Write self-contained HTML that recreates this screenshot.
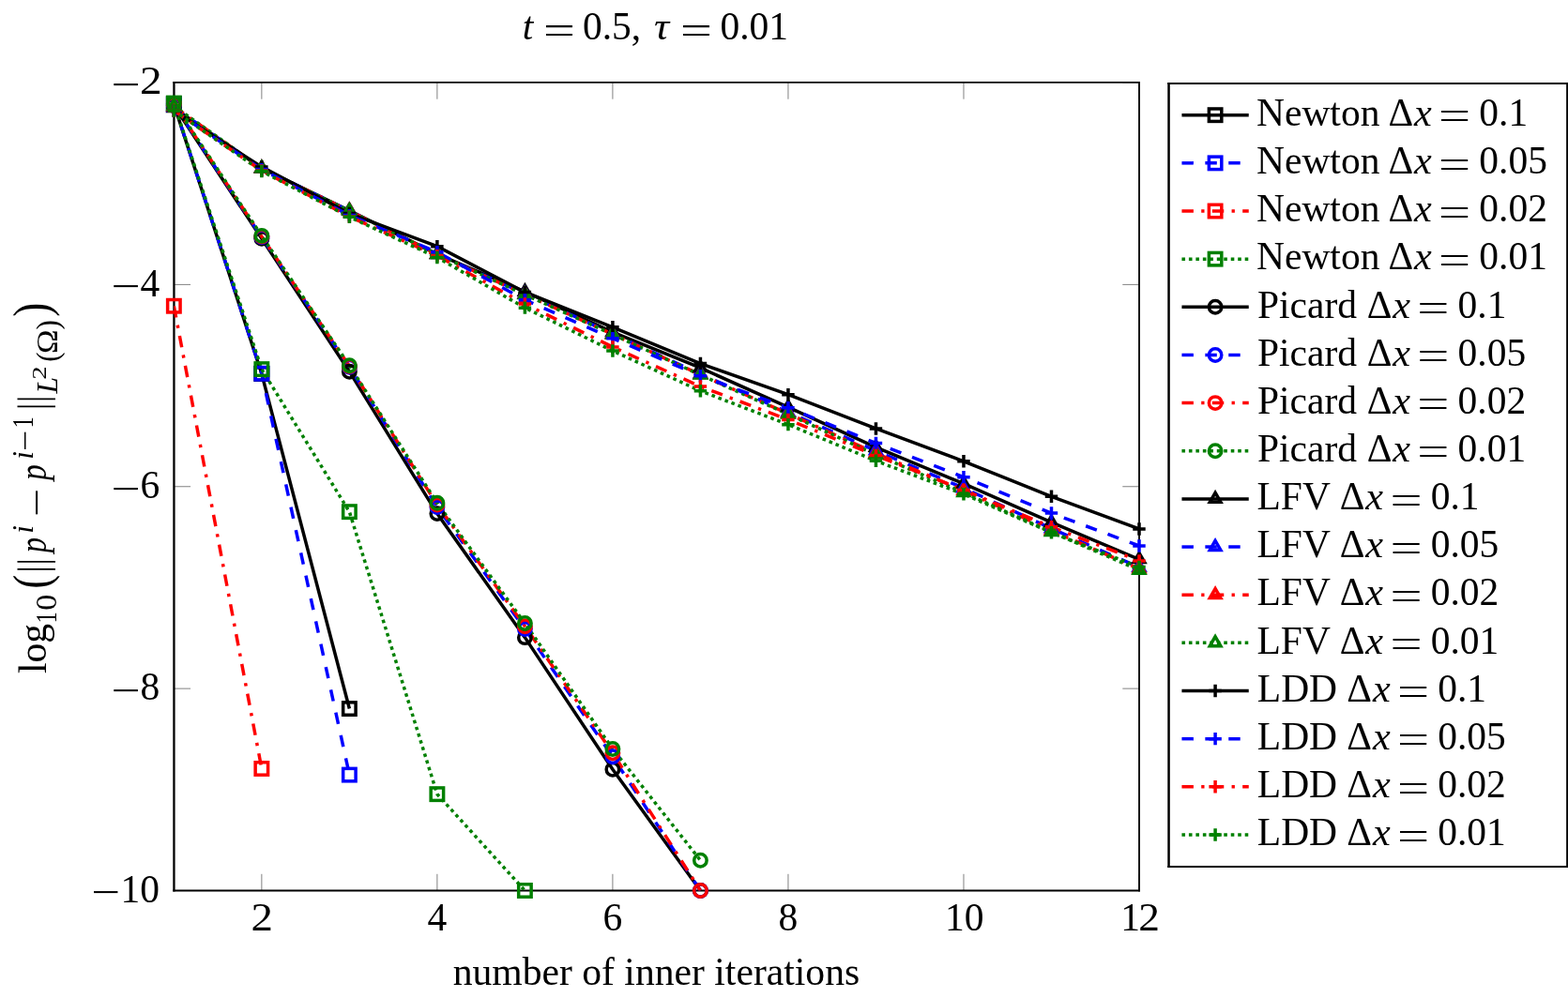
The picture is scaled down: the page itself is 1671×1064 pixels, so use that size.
<!DOCTYPE html>
<html lang="en"><head><meta charset="utf-8"><title>Convergence of inner iterations</title>
<style>html,body{margin:0;padding:0;background:#fff;overflow:hidden}svg{display:block}text{font-family:"Liberation Serif","DejaVu Serif",serif;fill:#000;white-space:pre}</style>
</head><body>
<svg width="1671" height="1064" viewBox="0 0 1671 1064">
<rect width="1671" height="1064" fill="#fff"/>
<defs><clipPath id="c"><rect x="185.35" y="88" width="1028.65" height="861.5"/></clipPath></defs>
<g stroke="#808080" stroke-width="1" fill="none">
<path d="M278.86 88v17.7M278.86 949.5v-17.7M465.89 88v17.7M465.89 949.5v-17.7M652.92 88v17.7M652.92 949.5v-17.7M839.95 88v17.7M839.95 949.5v-17.7M1026.97 88v17.7M1026.97 949.5v-17.7M1214 88v17.7M1214 949.5v-17.7M185.35 88h17.7M1214 88h-17.7M185.35 303.38h17.7M1214 303.38h-17.7M185.35 518.75h17.7M1214 518.75h-17.7M185.35 734.12h17.7M1214 734.12h-17.7M185.35 949.5h17.7M1214 949.5h-17.7"/>
</g>
<g stroke="#000" fill="none" stroke-linecap="butt">
<path d="M185.45 87.05V950.6" stroke-width="2.3"/>
<path d="M1214 87.05V950.6" stroke-width="1.8"/>
<path d="M184.3 87.95H1214.9" stroke-width="1.8"/>
<path d="M184.3 949.5H1214.9" stroke-width="2.2"/>
</g>
<g clip-path="url(#c)" fill="none" stroke-width="3.5" stroke-linejoin="miter">
<path d="M185.35 111.05L278.86 398.46L372.38 755.55" stroke="#000000"/>
<path d="M185.35 110.72L278.86 398.25L372.38 826.09" stroke="#0000ff" stroke-dasharray="12.45 12.45"/>
<path d="M185.35 326.24L278.86 819.46" stroke="#ff0000" stroke-dasharray="12.45 8.3 3.32 8.3"/>
<path d="M185.35 110.08L278.86 393.62L372.38 545.67L465.89 846.66L559.4 949.5" stroke="#008000" stroke-dasharray="3.6 3.87"/>
<path d="M185.35 112.55L278.86 254.38L372.38 396.2L465.89 547.61L559.4 679.64L652.92 820.28L746.43 949.5" stroke="#000000"/>
<path d="M185.35 111.8L278.86 252.87L372.38 391.25L465.89 540.61L559.4 670.59L652.92 806.81L746.43 949.5" stroke="#0000ff" stroke-dasharray="12.45 12.45"/>
<path d="M185.35 111.05L278.86 252.12L372.38 390.39L465.89 538.13L559.4 667.68L652.92 802.72L746.43 949.5" stroke="#ff0000" stroke-dasharray="12.45 8.3 3.32 8.3"/>
<path d="M185.35 110.29L278.86 251.36L372.38 389.7L465.89 536.3L559.4 664.56L652.92 798.41L746.43 917.19" stroke="#008000" stroke-dasharray="3.6 3.87"/>
<path d="M185.35 115.14L278.86 179.32L372.38 224.55L465.89 270.85L559.4 311.02L652.92 354.2L746.43 392.22L839.95 434.22L933.46 476.86L1026.97 515.73L1120.49 556.87L1214 596.28" stroke="#000000"/>
<path d="M185.35 114.38L278.86 179.43L372.38 224.66L465.89 271.07L559.4 313.07L652.92 355.93L746.43 398.68L839.95 439.6L933.46 480.52L1026.97 520.37L1120.49 563.44L1214 604.9" stroke="#0000ff" stroke-dasharray="12.45 12.45"/>
<path d="M185.35 113.63L278.86 179.53L372.38 224.76L465.89 271.18L559.4 313.71L652.92 356.36L746.43 399.43L839.95 441L933.46 483.21L1026.97 523.06L1120.49 565.59L1214 606.52" stroke="#ff0000" stroke-dasharray="12.45 8.3 3.32 8.3"/>
<path d="M185.35 113.09L278.86 179.53L372.38 224.87L465.89 271.28L559.4 314.04L652.92 356.57L746.43 399.76L839.95 441.65L933.46 484.72L1026.97 525.21L1120.49 567.21L1214 607.81" stroke="#008000" stroke-dasharray="3.6 3.87"/>
<path d="M185.35 117.94L278.86 177.92L372.38 227.56L465.89 262.67L559.4 311.45L652.92 348.82L746.43 387.59L839.95 420.65L933.46 456.94L1026.97 491.83L1120.49 529.3L1214 563.98" stroke="#000000"/>
<path d="M185.35 117.94L278.86 180.61L372.38 229.61L465.89 268.81L559.4 319.74L652.92 360.66L746.43 400.83L839.95 434.75L933.46 472.44L1026.97 508.63L1120.49 547.07L1214 581.96" stroke="#0000ff" stroke-dasharray="12.45 12.45"/>
<path d="M185.35 117.94L278.86 181.9L372.38 231.01L465.89 272.68L559.4 324.05L652.92 369.93L746.43 412.03L839.95 447.46L933.46 485.58L1026.97 522.41L1120.49 561.83L1214 597.9" stroke="#ff0000" stroke-dasharray="12.45 8.3 3.32 8.3"/>
<path d="M185.35 117.94L278.86 182.5L372.38 231.33L465.89 274.41L559.4 328.14L652.92 374.02L746.43 416.77L839.95 452.63L933.46 491.29L1026.97 526.83L1120.49 567.75L1214 604.58" stroke="#008000" stroke-dasharray="3.6 3.87"/>
</g>
<g>
<rect x="178.63" y="104.33" width="13.44" height="13.44" fill="none" stroke="#000000" stroke-width="3.5"/>
<rect x="272.14" y="391.74" width="13.44" height="13.44" fill="none" stroke="#000000" stroke-width="3.5"/>
<rect x="365.66" y="748.83" width="13.44" height="13.44" fill="none" stroke="#000000" stroke-width="3.5"/>
<rect x="178.63" y="104" width="13.44" height="13.44" fill="none" stroke="#0000ff" stroke-width="3.5"/>
<rect x="272.14" y="391.53" width="13.44" height="13.44" fill="none" stroke="#0000ff" stroke-width="3.5"/>
<rect x="365.66" y="819.37" width="13.44" height="13.44" fill="none" stroke="#0000ff" stroke-width="3.5"/>
<rect x="178.63" y="319.52" width="13.44" height="13.44" fill="none" stroke="#ff0000" stroke-width="3.5"/>
<rect x="272.14" y="812.74" width="13.44" height="13.44" fill="none" stroke="#ff0000" stroke-width="3.5"/>
<rect x="178.63" y="103.36" width="13.44" height="13.44" fill="none" stroke="#008000" stroke-width="3.5"/>
<rect x="272.14" y="386.9" width="13.44" height="13.44" fill="none" stroke="#008000" stroke-width="3.5"/>
<rect x="365.66" y="538.95" width="13.44" height="13.44" fill="none" stroke="#008000" stroke-width="3.5"/>
<rect x="459.17" y="839.94" width="13.44" height="13.44" fill="none" stroke="#008000" stroke-width="3.5"/>
<rect x="552.68" y="942.78" width="13.44" height="13.44" fill="none" stroke="#008000" stroke-width="3.5"/>
<circle cx="185.35" cy="112.55" r="6.72" fill="none" stroke="#000000" stroke-width="3.5"/>
<circle cx="278.86" cy="254.38" r="6.72" fill="none" stroke="#000000" stroke-width="3.5"/>
<circle cx="372.38" cy="396.2" r="6.72" fill="none" stroke="#000000" stroke-width="3.5"/>
<circle cx="465.89" cy="547.61" r="6.72" fill="none" stroke="#000000" stroke-width="3.5"/>
<circle cx="559.4" cy="679.64" r="6.72" fill="none" stroke="#000000" stroke-width="3.5"/>
<circle cx="652.92" cy="820.28" r="6.72" fill="none" stroke="#000000" stroke-width="3.5"/>
<circle cx="746.43" cy="949.5" r="6.72" fill="none" stroke="#000000" stroke-width="3.5"/>
<circle cx="185.35" cy="111.8" r="6.72" fill="none" stroke="#0000ff" stroke-width="3.5"/>
<circle cx="278.86" cy="252.87" r="6.72" fill="none" stroke="#0000ff" stroke-width="3.5"/>
<circle cx="372.38" cy="391.25" r="6.72" fill="none" stroke="#0000ff" stroke-width="3.5"/>
<circle cx="465.89" cy="540.61" r="6.72" fill="none" stroke="#0000ff" stroke-width="3.5"/>
<circle cx="559.4" cy="670.59" r="6.72" fill="none" stroke="#0000ff" stroke-width="3.5"/>
<circle cx="652.92" cy="806.81" r="6.72" fill="none" stroke="#0000ff" stroke-width="3.5"/>
<circle cx="746.43" cy="949.5" r="6.72" fill="none" stroke="#0000ff" stroke-width="3.5"/>
<circle cx="185.35" cy="111.05" r="6.72" fill="none" stroke="#ff0000" stroke-width="3.5"/>
<circle cx="278.86" cy="252.12" r="6.72" fill="none" stroke="#ff0000" stroke-width="3.5"/>
<circle cx="372.38" cy="390.39" r="6.72" fill="none" stroke="#ff0000" stroke-width="3.5"/>
<circle cx="465.89" cy="538.13" r="6.72" fill="none" stroke="#ff0000" stroke-width="3.5"/>
<circle cx="559.4" cy="667.68" r="6.72" fill="none" stroke="#ff0000" stroke-width="3.5"/>
<circle cx="652.92" cy="802.72" r="6.72" fill="none" stroke="#ff0000" stroke-width="3.5"/>
<circle cx="746.43" cy="949.5" r="6.72" fill="none" stroke="#ff0000" stroke-width="3.5"/>
<circle cx="185.35" cy="110.29" r="6.72" fill="none" stroke="#008000" stroke-width="3.5"/>
<circle cx="278.86" cy="251.36" r="6.72" fill="none" stroke="#008000" stroke-width="3.5"/>
<circle cx="372.38" cy="389.7" r="6.72" fill="none" stroke="#008000" stroke-width="3.5"/>
<circle cx="465.89" cy="536.3" r="6.72" fill="none" stroke="#008000" stroke-width="3.5"/>
<circle cx="559.4" cy="664.56" r="6.72" fill="none" stroke="#008000" stroke-width="3.5"/>
<circle cx="652.92" cy="798.41" r="6.72" fill="none" stroke="#008000" stroke-width="3.5"/>
<circle cx="746.43" cy="917.19" r="6.72" fill="none" stroke="#008000" stroke-width="3.5"/>
<path d="M185.35 108.52L179.62 118.45L191.08 118.45Z" fill="none" stroke="#000000" stroke-width="3.55"/>
<path d="M278.86 172.7L273.13 182.63L284.6 182.63Z" fill="none" stroke="#000000" stroke-width="3.55"/>
<path d="M372.38 217.93L366.64 227.86L378.11 227.86Z" fill="none" stroke="#000000" stroke-width="3.55"/>
<path d="M465.89 264.23L460.16 274.16L471.62 274.16Z" fill="none" stroke="#000000" stroke-width="3.55"/>
<path d="M559.4 304.4L553.67 314.33L565.14 314.33Z" fill="none" stroke="#000000" stroke-width="3.55"/>
<path d="M652.92 347.58L647.19 357.51L658.65 357.51Z" fill="none" stroke="#000000" stroke-width="3.55"/>
<path d="M746.43 385.6L740.7 395.53L752.16 395.53Z" fill="none" stroke="#000000" stroke-width="3.55"/>
<path d="M839.95 427.6L834.21 437.53L845.68 437.53Z" fill="none" stroke="#000000" stroke-width="3.55"/>
<path d="M933.46 470.24L927.73 480.17L939.19 480.17Z" fill="none" stroke="#000000" stroke-width="3.55"/>
<path d="M1026.97 509.11L1021.24 519.04L1032.71 519.04Z" fill="none" stroke="#000000" stroke-width="3.55"/>
<path d="M1120.49 550.25L1114.75 560.18L1126.22 560.18Z" fill="none" stroke="#000000" stroke-width="3.55"/>
<path d="M1214 589.66L1208.27 599.59L1219.73 599.59Z" fill="none" stroke="#000000" stroke-width="3.55"/>
<path d="M185.35 107.76L179.62 117.69L191.08 117.69Z" fill="none" stroke="#0000ff" stroke-width="3.55"/>
<path d="M278.86 172.81L273.13 182.74L284.6 182.74Z" fill="none" stroke="#0000ff" stroke-width="3.55"/>
<path d="M372.38 218.04L366.64 227.97L378.11 227.97Z" fill="none" stroke="#0000ff" stroke-width="3.55"/>
<path d="M465.89 264.45L460.16 274.38L471.62 274.38Z" fill="none" stroke="#0000ff" stroke-width="3.55"/>
<path d="M559.4 306.45L553.67 316.38L565.14 316.38Z" fill="none" stroke="#0000ff" stroke-width="3.55"/>
<path d="M652.92 349.31L647.19 359.24L658.65 359.24Z" fill="none" stroke="#0000ff" stroke-width="3.55"/>
<path d="M746.43 392.06L740.7 401.99L752.16 401.99Z" fill="none" stroke="#0000ff" stroke-width="3.55"/>
<path d="M839.95 432.98L834.21 442.91L845.68 442.91Z" fill="none" stroke="#0000ff" stroke-width="3.55"/>
<path d="M933.46 473.9L927.73 483.83L939.19 483.83Z" fill="none" stroke="#0000ff" stroke-width="3.55"/>
<path d="M1026.97 513.75L1021.24 523.68L1032.71 523.68Z" fill="none" stroke="#0000ff" stroke-width="3.55"/>
<path d="M1120.49 556.82L1114.75 566.75L1126.22 566.75Z" fill="none" stroke="#0000ff" stroke-width="3.55"/>
<path d="M1214 598.28L1208.27 608.21L1219.73 608.21Z" fill="none" stroke="#0000ff" stroke-width="3.55"/>
<path d="M185.35 107.01L179.62 116.94L191.08 116.94Z" fill="none" stroke="#ff0000" stroke-width="3.55"/>
<path d="M278.86 172.91L273.13 182.84L284.6 182.84Z" fill="none" stroke="#ff0000" stroke-width="3.55"/>
<path d="M372.38 218.14L366.64 228.07L378.11 228.07Z" fill="none" stroke="#ff0000" stroke-width="3.55"/>
<path d="M465.89 264.56L460.16 274.49L471.62 274.49Z" fill="none" stroke="#ff0000" stroke-width="3.55"/>
<path d="M559.4 307.09L553.67 317.02L565.14 317.02Z" fill="none" stroke="#ff0000" stroke-width="3.55"/>
<path d="M652.92 349.74L647.19 359.67L658.65 359.67Z" fill="none" stroke="#ff0000" stroke-width="3.55"/>
<path d="M746.43 392.81L740.7 402.74L752.16 402.74Z" fill="none" stroke="#ff0000" stroke-width="3.55"/>
<path d="M839.95 434.38L834.21 444.31L845.68 444.31Z" fill="none" stroke="#ff0000" stroke-width="3.55"/>
<path d="M933.46 476.59L927.73 486.52L939.19 486.52Z" fill="none" stroke="#ff0000" stroke-width="3.55"/>
<path d="M1026.97 516.44L1021.24 526.37L1032.71 526.37Z" fill="none" stroke="#ff0000" stroke-width="3.55"/>
<path d="M1120.49 558.97L1114.75 568.9L1126.22 568.9Z" fill="none" stroke="#ff0000" stroke-width="3.55"/>
<path d="M1214 599.9L1208.27 609.83L1219.73 609.83Z" fill="none" stroke="#ff0000" stroke-width="3.55"/>
<path d="M185.35 106.47L179.62 116.4L191.08 116.4Z" fill="none" stroke="#008000" stroke-width="3.55"/>
<path d="M278.86 172.91L273.13 182.84L284.6 182.84Z" fill="none" stroke="#008000" stroke-width="3.55"/>
<path d="M372.38 218.25L366.64 228.18L378.11 228.18Z" fill="none" stroke="#008000" stroke-width="3.55"/>
<path d="M465.89 264.66L460.16 274.59L471.62 274.59Z" fill="none" stroke="#008000" stroke-width="3.55"/>
<path d="M559.4 307.42L553.67 317.35L565.14 317.35Z" fill="none" stroke="#008000" stroke-width="3.55"/>
<path d="M652.92 349.95L647.19 359.88L658.65 359.88Z" fill="none" stroke="#008000" stroke-width="3.55"/>
<path d="M746.43 393.14L740.7 403.07L752.16 403.07Z" fill="none" stroke="#008000" stroke-width="3.55"/>
<path d="M839.95 435.03L834.21 444.96L845.68 444.96Z" fill="none" stroke="#008000" stroke-width="3.55"/>
<path d="M933.46 478.1L927.73 488.03L939.19 488.03Z" fill="none" stroke="#008000" stroke-width="3.55"/>
<path d="M1026.97 518.59L1021.24 528.52L1032.71 528.52Z" fill="none" stroke="#008000" stroke-width="3.55"/>
<path d="M1120.49 560.59L1114.75 570.52L1126.22 570.52Z" fill="none" stroke="#008000" stroke-width="3.55"/>
<path d="M1214 601.19L1208.27 611.12L1219.73 611.12Z" fill="none" stroke="#008000" stroke-width="3.55"/>
<path d="M178.63 117.94H192.07M185.35 111.22V124.66" fill="none" stroke="#000000" stroke-width="3.5"/>
<path d="M272.14 177.92H285.58M278.86 171.2V184.64" fill="none" stroke="#000000" stroke-width="3.5"/>
<path d="M365.66 227.56H379.1M372.38 220.84V234.28" fill="none" stroke="#000000" stroke-width="3.5"/>
<path d="M459.17 262.67H472.61M465.89 255.95V269.39" fill="none" stroke="#000000" stroke-width="3.5"/>
<path d="M552.68 311.45H566.12M559.4 304.73V318.17" fill="none" stroke="#000000" stroke-width="3.5"/>
<path d="M646.2 348.82H659.64M652.92 342.1V355.54" fill="none" stroke="#000000" stroke-width="3.5"/>
<path d="M739.71 387.59H753.15M746.43 380.87V394.31" fill="none" stroke="#000000" stroke-width="3.5"/>
<path d="M833.23 420.65H846.67M839.95 413.93V427.37" fill="none" stroke="#000000" stroke-width="3.5"/>
<path d="M926.74 456.94H940.18M933.46 450.22V463.66" fill="none" stroke="#000000" stroke-width="3.5"/>
<path d="M1020.25 491.83H1033.69M1026.97 485.11V498.55" fill="none" stroke="#000000" stroke-width="3.5"/>
<path d="M1113.77 529.3H1127.21M1120.49 522.58V536.02" fill="none" stroke="#000000" stroke-width="3.5"/>
<path d="M1207.28 563.98H1220.72M1214 557.26V570.7" fill="none" stroke="#000000" stroke-width="3.5"/>
<path d="M178.63 117.94H192.07M185.35 111.22V124.66" fill="none" stroke="#0000ff" stroke-width="3.5"/>
<path d="M272.14 180.61H285.58M278.86 173.89V187.33" fill="none" stroke="#0000ff" stroke-width="3.5"/>
<path d="M365.66 229.61H379.1M372.38 222.89V236.33" fill="none" stroke="#0000ff" stroke-width="3.5"/>
<path d="M459.17 268.81H472.61M465.89 262.09V275.53" fill="none" stroke="#0000ff" stroke-width="3.5"/>
<path d="M552.68 319.74H566.12M559.4 313.02V326.46" fill="none" stroke="#0000ff" stroke-width="3.5"/>
<path d="M646.2 360.66H659.64M652.92 353.94V367.38" fill="none" stroke="#0000ff" stroke-width="3.5"/>
<path d="M739.71 400.83H753.15M746.43 394.11V407.55" fill="none" stroke="#0000ff" stroke-width="3.5"/>
<path d="M833.23 434.75H846.67M839.95 428.03V441.47" fill="none" stroke="#0000ff" stroke-width="3.5"/>
<path d="M926.74 472.44H940.18M933.46 465.72V479.16" fill="none" stroke="#0000ff" stroke-width="3.5"/>
<path d="M1020.25 508.63H1033.69M1026.97 501.91V515.35" fill="none" stroke="#0000ff" stroke-width="3.5"/>
<path d="M1113.77 547.07H1127.21M1120.49 540.35V553.79" fill="none" stroke="#0000ff" stroke-width="3.5"/>
<path d="M1207.28 581.96H1220.72M1214 575.24V588.68" fill="none" stroke="#0000ff" stroke-width="3.5"/>
<path d="M178.63 117.94H192.07M185.35 111.22V124.66" fill="none" stroke="#ff0000" stroke-width="3.5"/>
<path d="M272.14 181.9H285.58M278.86 175.18V188.62" fill="none" stroke="#ff0000" stroke-width="3.5"/>
<path d="M365.66 231.01H379.1M372.38 224.29V237.73" fill="none" stroke="#ff0000" stroke-width="3.5"/>
<path d="M459.17 272.68H472.61M465.89 265.96V279.4" fill="none" stroke="#ff0000" stroke-width="3.5"/>
<path d="M552.68 324.05H566.12M559.4 317.33V330.77" fill="none" stroke="#ff0000" stroke-width="3.5"/>
<path d="M646.2 369.93H659.64M652.92 363.21V376.65" fill="none" stroke="#ff0000" stroke-width="3.5"/>
<path d="M739.71 412.03H753.15M746.43 405.31V418.75" fill="none" stroke="#ff0000" stroke-width="3.5"/>
<path d="M833.23 447.46H846.67M839.95 440.74V454.18" fill="none" stroke="#ff0000" stroke-width="3.5"/>
<path d="M926.74 485.58H940.18M933.46 478.86V492.3" fill="none" stroke="#ff0000" stroke-width="3.5"/>
<path d="M1020.25 522.41H1033.69M1026.97 515.69V529.13" fill="none" stroke="#ff0000" stroke-width="3.5"/>
<path d="M1113.77 561.83H1127.21M1120.49 555.11V568.55" fill="none" stroke="#ff0000" stroke-width="3.5"/>
<path d="M1207.28 597.9H1220.72M1214 591.18V604.62" fill="none" stroke="#ff0000" stroke-width="3.5"/>
<path d="M178.63 117.94H192.07M185.35 111.22V124.66" fill="none" stroke="#008000" stroke-width="3.5"/>
<path d="M272.14 182.5H285.58M278.86 175.78V189.22" fill="none" stroke="#008000" stroke-width="3.5"/>
<path d="M365.66 231.33H379.1M372.38 224.61V238.05" fill="none" stroke="#008000" stroke-width="3.5"/>
<path d="M459.17 274.41H472.61M465.89 267.69V281.13" fill="none" stroke="#008000" stroke-width="3.5"/>
<path d="M552.68 328.14H566.12M559.4 321.42V334.86" fill="none" stroke="#008000" stroke-width="3.5"/>
<path d="M646.2 374.02H659.64M652.92 367.3V380.74" fill="none" stroke="#008000" stroke-width="3.5"/>
<path d="M739.71 416.77H753.15M746.43 410.05V423.49" fill="none" stroke="#008000" stroke-width="3.5"/>
<path d="M833.23 452.63H846.67M839.95 445.91V459.35" fill="none" stroke="#008000" stroke-width="3.5"/>
<path d="M926.74 491.29H940.18M933.46 484.57V498.01" fill="none" stroke="#008000" stroke-width="3.5"/>
<path d="M1020.25 526.83H1033.69M1026.97 520.11V533.55" fill="none" stroke="#008000" stroke-width="3.5"/>
<path d="M1113.77 567.75H1127.21M1120.49 561.03V574.47" fill="none" stroke="#008000" stroke-width="3.5"/>
<path d="M1207.28 604.58H1220.72M1214 597.86V611.3" fill="none" stroke="#008000" stroke-width="3.5"/>
</g>
<text transform="translate(148.92 100.3) scale(1.1421 1.0000)" font-size="41.5">2</text>
<text transform="translate(118.45 103.83) scale(1.3308 1.0000)" font-size="41.5">−</text>
<text x="149.4" y="315.68" font-size="41.5">4</text>
<text transform="translate(118.45 319.2) scale(1.3308 1.0000)" font-size="41.5">−</text>
<text x="149.4" y="531.05" font-size="41.5">6</text>
<text transform="translate(118.45 534.58) scale(1.3308 1.0000)" font-size="41.5">−</text>
<text x="149.4" y="746.42" font-size="41.5">8</text>
<text transform="translate(118.45 749.95) scale(1.3308 1.0000)" font-size="41.5">−</text>
<text x="128.6" y="961.8" font-size="41.5">10</text>
<text transform="translate(97.37 965.33) scale(1.3205 1.0000)" font-size="41.5">−</text>
<text transform="translate(267.4 992.2) scale(1.1300 1.0000)" font-size="41.5">2</text>
<text x="455.52" y="992.2" font-size="41.5">4</text>
<text x="642.54" y="992.2" font-size="41.5">6</text>
<text x="829.57" y="992.2" font-size="41.5">8</text>
<text x="1007.12" y="992.2" font-size="41.5">10</text>
<text x="1194.3" y="992.2" font-size="41.5">1</text>
<text transform="translate(1213.3 992.2) scale(1.0940 1.0000)" font-size="41.5">2</text>
<text x="556.68" y="42.1" font-size="41.5" font-style="italic">t</text>
<text transform="translate(579 45.63) scale(1.4499 1.0000)" font-size="41.5">=</text>
<text x="620.92" y="42.1" font-size="41.5">0.5,</text>
<text transform="translate(697.01 42.1) scale(1.0857 1.0000)" font-size="41.5" font-style="italic">τ</text>
<text transform="translate(725 45.63) scale(1.4499 1.0000)" font-size="41.5">=</text>
<text x="767.42" y="42.1" font-size="41.5">0.01</text>
<text transform="translate(482.64 1050) scale(1.0035 1.0000)" font-size="41.5">number of inner iterations</text>
<g transform="translate(49 717.5) rotate(-90)">
<text x="-0.53" y="0" font-size="41.5">log</text>
<text transform="translate(53.03 11.2) scale(0.7845 1.0000)" font-size="31.5">1</text>
<text transform="translate(66.71 11.2) scale(1.0786 1.0000)" font-size="31.5">0</text>
<text transform="translate(89.82 2.88) scale(1.0883 1.3155)" font-size="41.5">(</text>
<text transform="translate(107.28 0.5) scale(0.8225 1.0834)" font-size="41.5">|</text>
<text transform="translate(115.28 0.5) scale(0.8225 1.0834)" font-size="41.5">|</text>
<text transform="translate(128.21 0) scale(0.7845 1.0000)" font-size="41.5" font-style="italic">p</text>
<text x="148.65" y="-14.2" font-size="31.5" font-style="italic">i</text>
<text transform="translate(166.42 3.53) scale(1.2946 1.0000)" font-size="41.5">−</text>
<text transform="translate(205.55 0) scale(0.8027 1.0000)" font-size="41.5" font-style="italic">p</text>
<text x="227.75" y="-14.2" font-size="31.5" font-style="italic">i</text>
<text transform="translate(236.74 -11.82) scale(1.2485 1.0000)" font-size="31.5">−</text>
<text transform="translate(260.93 -14.5) scale(0.7845 1.0000)" font-size="31.5">1</text>
<text transform="translate(280.78 0.5) scale(0.8225 1.0834)" font-size="41.5">|</text>
<text transform="translate(288.68 0.5) scale(0.8225 1.0834)" font-size="41.5">|</text>
<text x="297.97" y="12" font-size="31.5" font-style="italic">L</text>
<text transform="translate(312.83 -0.2) scale(1.3459 1.0000)" font-size="21.5">2</text>
<text transform="translate(331.63 12.7) scale(0.9888 1.0888)" font-size="31.5">(</text>
<text transform="translate(340.42 12) scale(1.0919 1.0213)" font-size="31.5">Ω</text>
<text transform="translate(366 12.7) scale(0.9888 1.0888)" font-size="31.5">)</text>
<text transform="translate(379.74 2.88) scale(1.0883 1.3155)" font-size="41.5">)</text>
</g>
<rect x="1245.55" y="89" width="424.55" height="835.1" fill="#fff"/>
<g stroke="#000" fill="none" stroke-linecap="butt">
<path d="M1245.55 88.1V925.1" stroke-width="2.5"/>
<path d="M1670.1 88.1V925.1" stroke-width="1.9"/>
<path d="M1244.3 89H1671.05" stroke-width="1.8"/>
<path d="M1244.3 924.1H1671.05" stroke-width="2"/>
</g>
<path d="M1259.45 122.7H1330.75" fill="none" stroke="#000000" stroke-width="3.5"/>
<rect x="1288.38" y="115.98" width="13.44" height="13.44" fill="none" stroke="#000000" stroke-width="3.5"/>
<text x="1339" y="133.9" font-size="41.5">Newton</text>
<text x="1479.42" y="133.9" font-size="41.5">Δ</text>
<text transform="translate(1507.02 133.9) scale(1.0203 1.0000)" font-size="41.5" font-style="italic">x</text>
<text transform="translate(1533.08 137.43) scale(1.4603 1.0000)" font-size="41.5">=</text>
<text x="1576.32" y="133.9" font-size="41.5">0.1</text>
<path d="M1259.45 173.85H1330.75" fill="none" stroke="#0000ff" stroke-width="3.5" stroke-dasharray="12.45 12.45"/>
<rect x="1288.38" y="167.13" width="13.44" height="13.44" fill="none" stroke="#0000ff" stroke-width="3.5"/>
<text x="1339" y="185.05" font-size="41.5">Newton</text>
<text x="1479.42" y="185.05" font-size="41.5">Δ</text>
<text transform="translate(1507.02 185.05) scale(1.0203 1.0000)" font-size="41.5" font-style="italic">x</text>
<text transform="translate(1533.08 188.58) scale(1.4603 1.0000)" font-size="41.5">=</text>
<text x="1576.32" y="185.05" font-size="41.5">0.05</text>
<path d="M1259.45 225H1330.75" fill="none" stroke="#ff0000" stroke-width="3.5" stroke-dasharray="12.45 8.3 3.32 8.3"/>
<rect x="1288.38" y="218.28" width="13.44" height="13.44" fill="none" stroke="#ff0000" stroke-width="3.5"/>
<text x="1339" y="236.2" font-size="41.5">Newton</text>
<text x="1479.42" y="236.2" font-size="41.5">Δ</text>
<text transform="translate(1507.02 236.2) scale(1.0203 1.0000)" font-size="41.5" font-style="italic">x</text>
<text transform="translate(1533.08 239.73) scale(1.4603 1.0000)" font-size="41.5">=</text>
<text x="1576.32" y="236.2" font-size="41.5">0.02</text>
<path d="M1259.45 276.15H1330.75" fill="none" stroke="#008000" stroke-width="3.5" stroke-dasharray="3.6 3.87"/>
<rect x="1288.38" y="269.43" width="13.44" height="13.44" fill="none" stroke="#008000" stroke-width="3.5"/>
<text x="1339" y="287.35" font-size="41.5">Newton</text>
<text x="1479.42" y="287.35" font-size="41.5">Δ</text>
<text transform="translate(1507.02 287.35) scale(1.0203 1.0000)" font-size="41.5" font-style="italic">x</text>
<text transform="translate(1533.08 290.88) scale(1.4603 1.0000)" font-size="41.5">=</text>
<text x="1576.32" y="287.35" font-size="41.5">0.01</text>
<path d="M1259.45 327.3H1330.75" fill="none" stroke="#000000" stroke-width="3.5"/>
<circle cx="1295.1" cy="327.3" r="6.72" fill="none" stroke="#000000" stroke-width="3.5"/>
<text x="1340" y="338.5" font-size="41.5">Picard</text>
<text x="1456.65" y="338.5" font-size="41.5">Δ</text>
<text transform="translate(1484.25 338.5) scale(1.0203 1.0000)" font-size="41.5" font-style="italic">x</text>
<text transform="translate(1510.31 342.03) scale(1.4603 1.0000)" font-size="41.5">=</text>
<text x="1553.55" y="338.5" font-size="41.5">0.1</text>
<path d="M1259.45 378.45H1330.75" fill="none" stroke="#0000ff" stroke-width="3.5" stroke-dasharray="12.45 12.45"/>
<circle cx="1295.1" cy="378.45" r="6.72" fill="none" stroke="#0000ff" stroke-width="3.5"/>
<text x="1340" y="389.65" font-size="41.5">Picard</text>
<text x="1456.65" y="389.65" font-size="41.5">Δ</text>
<text transform="translate(1484.25 389.65) scale(1.0203 1.0000)" font-size="41.5" font-style="italic">x</text>
<text transform="translate(1510.31 393.18) scale(1.4603 1.0000)" font-size="41.5">=</text>
<text x="1553.55" y="389.65" font-size="41.5">0.05</text>
<path d="M1259.45 429.6H1330.75" fill="none" stroke="#ff0000" stroke-width="3.5" stroke-dasharray="12.45 8.3 3.32 8.3"/>
<circle cx="1295.1" cy="429.6" r="6.72" fill="none" stroke="#ff0000" stroke-width="3.5"/>
<text x="1340" y="440.8" font-size="41.5">Picard</text>
<text x="1456.65" y="440.8" font-size="41.5">Δ</text>
<text transform="translate(1484.25 440.8) scale(1.0203 1.0000)" font-size="41.5" font-style="italic">x</text>
<text transform="translate(1510.31 444.33) scale(1.4603 1.0000)" font-size="41.5">=</text>
<text x="1553.55" y="440.8" font-size="41.5">0.02</text>
<path d="M1259.45 480.75H1330.75" fill="none" stroke="#008000" stroke-width="3.5" stroke-dasharray="3.6 3.87"/>
<circle cx="1295.1" cy="480.75" r="6.72" fill="none" stroke="#008000" stroke-width="3.5"/>
<text x="1340" y="491.95" font-size="41.5">Picard</text>
<text x="1456.65" y="491.95" font-size="41.5">Δ</text>
<text transform="translate(1484.25 491.95) scale(1.0203 1.0000)" font-size="41.5" font-style="italic">x</text>
<text transform="translate(1510.31 495.48) scale(1.4603 1.0000)" font-size="41.5">=</text>
<text x="1553.55" y="491.95" font-size="41.5">0.01</text>
<path d="M1259.45 531.9H1330.75" fill="none" stroke="#000000" stroke-width="3.5"/>
<path d="M1295.1 525.28L1289.37 535.21L1300.83 535.21Z" fill="none" stroke="#000000" stroke-width="3.55"/>
<text x="1339.5" y="543.1" font-size="41.5">LFV</text>
<text x="1427.73" y="543.1" font-size="41.5">Δ</text>
<text transform="translate(1455.33 543.1) scale(1.0203 1.0000)" font-size="41.5" font-style="italic">x</text>
<text transform="translate(1481.39 546.63) scale(1.4603 1.0000)" font-size="41.5">=</text>
<text x="1524.63" y="543.1" font-size="41.5">0.1</text>
<path d="M1259.45 583.05H1330.75" fill="none" stroke="#0000ff" stroke-width="3.5" stroke-dasharray="12.45 12.45"/>
<path d="M1295.1 576.43L1289.37 586.36L1300.83 586.36Z" fill="none" stroke="#0000ff" stroke-width="3.55"/>
<text x="1339.5" y="594.25" font-size="41.5">LFV</text>
<text x="1427.73" y="594.25" font-size="41.5">Δ</text>
<text transform="translate(1455.33 594.25) scale(1.0203 1.0000)" font-size="41.5" font-style="italic">x</text>
<text transform="translate(1481.39 597.78) scale(1.4603 1.0000)" font-size="41.5">=</text>
<text x="1524.63" y="594.25" font-size="41.5">0.05</text>
<path d="M1259.45 634.2H1330.75" fill="none" stroke="#ff0000" stroke-width="3.5" stroke-dasharray="12.45 8.3 3.32 8.3"/>
<path d="M1295.1 627.58L1289.37 637.51L1300.83 637.51Z" fill="none" stroke="#ff0000" stroke-width="3.55"/>
<text x="1339.5" y="645.4" font-size="41.5">LFV</text>
<text x="1427.73" y="645.4" font-size="41.5">Δ</text>
<text transform="translate(1455.33 645.4) scale(1.0203 1.0000)" font-size="41.5" font-style="italic">x</text>
<text transform="translate(1481.39 648.93) scale(1.4603 1.0000)" font-size="41.5">=</text>
<text x="1524.63" y="645.4" font-size="41.5">0.02</text>
<path d="M1259.45 685.35H1330.75" fill="none" stroke="#008000" stroke-width="3.5" stroke-dasharray="3.6 3.87"/>
<path d="M1295.1 678.73L1289.37 688.66L1300.83 688.66Z" fill="none" stroke="#008000" stroke-width="3.55"/>
<text x="1339.5" y="696.55" font-size="41.5">LFV</text>
<text x="1427.73" y="696.55" font-size="41.5">Δ</text>
<text transform="translate(1455.33 696.55) scale(1.0203 1.0000)" font-size="41.5" font-style="italic">x</text>
<text transform="translate(1481.39 700.08) scale(1.4603 1.0000)" font-size="41.5">=</text>
<text x="1524.63" y="696.55" font-size="41.5">0.01</text>
<path d="M1259.45 736.5H1330.75" fill="none" stroke="#000000" stroke-width="3.5"/>
<path d="M1288.38 736.5H1301.82M1295.1 729.78V743.22" fill="none" stroke="#000000" stroke-width="3.5"/>
<text x="1339.8" y="747.7" font-size="41.5">LDD</text>
<text x="1435.32" y="747.7" font-size="41.5">Δ</text>
<text transform="translate(1462.92 747.7) scale(1.0203 1.0000)" font-size="41.5" font-style="italic">x</text>
<text transform="translate(1488.98 751.23) scale(1.4603 1.0000)" font-size="41.5">=</text>
<text x="1532.22" y="747.7" font-size="41.5">0.1</text>
<path d="M1259.45 787.65H1330.75" fill="none" stroke="#0000ff" stroke-width="3.5" stroke-dasharray="12.45 12.45"/>
<path d="M1288.38 787.65H1301.82M1295.1 780.93V794.37" fill="none" stroke="#0000ff" stroke-width="3.5"/>
<text x="1339.8" y="798.85" font-size="41.5">LDD</text>
<text x="1435.32" y="798.85" font-size="41.5">Δ</text>
<text transform="translate(1462.92 798.85) scale(1.0203 1.0000)" font-size="41.5" font-style="italic">x</text>
<text transform="translate(1488.98 802.38) scale(1.4603 1.0000)" font-size="41.5">=</text>
<text x="1532.22" y="798.85" font-size="41.5">0.05</text>
<path d="M1259.45 838.8H1330.75" fill="none" stroke="#ff0000" stroke-width="3.5" stroke-dasharray="12.45 8.3 3.32 8.3"/>
<path d="M1288.38 838.8H1301.82M1295.1 832.08V845.52" fill="none" stroke="#ff0000" stroke-width="3.5"/>
<text x="1339.8" y="850" font-size="41.5">LDD</text>
<text x="1435.32" y="850" font-size="41.5">Δ</text>
<text transform="translate(1462.92 850) scale(1.0203 1.0000)" font-size="41.5" font-style="italic">x</text>
<text transform="translate(1488.98 853.53) scale(1.4603 1.0000)" font-size="41.5">=</text>
<text x="1532.22" y="850" font-size="41.5">0.02</text>
<path d="M1259.45 889.95H1330.75" fill="none" stroke="#008000" stroke-width="3.5" stroke-dasharray="3.6 3.87"/>
<path d="M1288.38 889.95H1301.82M1295.1 883.23V896.67" fill="none" stroke="#008000" stroke-width="3.5"/>
<text x="1339.8" y="901.15" font-size="41.5">LDD</text>
<text x="1435.32" y="901.15" font-size="41.5">Δ</text>
<text transform="translate(1462.92 901.15) scale(1.0203 1.0000)" font-size="41.5" font-style="italic">x</text>
<text transform="translate(1488.98 904.68) scale(1.4603 1.0000)" font-size="41.5">=</text>
<text x="1532.22" y="901.15" font-size="41.5">0.01</text>
</svg>
</body></html>
